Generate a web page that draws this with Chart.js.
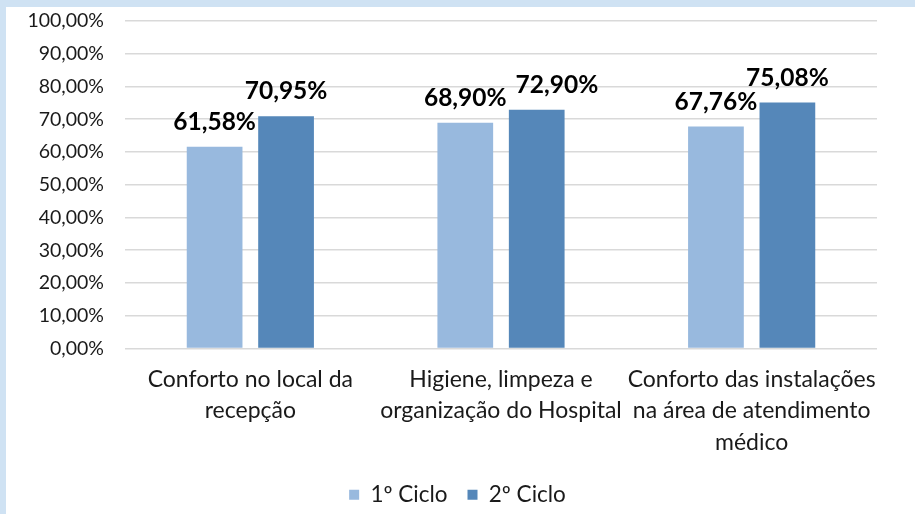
<!DOCTYPE html>
<html>
<head>
<meta charset="utf-8">
<script src="https://cdn.jsdelivr.net/npm/chart.js@4"></script>
<style>
  html, body { margin: 0; padding: 0; }
  body { width: 915px; height: 514px; background: #cfe2f3; position: relative; overflow: hidden; }
  #sheet { position: absolute; left: 6px; top: 7px; right: 0; bottom: 0; background: #ffffff; }
  /* canvas a bit taller than the page so the legend sits low like the original */
  #wrap { position: absolute; left: 0; top: 0; width: 915px; height: 516px; }
</style>
</head>
<body>
<div id="sheet"></div>
<div id="wrap"><canvas id="chart"></canvas></div>
<script>
// categories and values
const categories = [
  ['Conforto no local da', 'recepção'],
  ['Higiene, limpeza e', 'organização do Hospital'],
  ['Conforto das instalações', 'na área de atendimento', 'médico']
];
const seriesNames = ['1º Ciclo', '2º Ciclo'];
const ciclo1 = [61.58, 68.90, 67.76];
const ciclo2 = [70.95, 72.90, 75.08];
const barColors = ['#98b9de', '#5587b9'];

const FONT = 'Lato, "Liberation Sans", sans-serif';
const TEXT = '#1a1a1a';

// percent with comma, like the original spreadsheet
function pct(v) {
  return v.toFixed(2).replace('.', ',') + '%';
}

// draws the bold value over each bar, pushing a label right when it
// would collide with its neighbour (like Excel did in the middle group)
const valueLabels = {
  id: 'valueLabels',
  afterDatasetsDraw(chart) {
    const ctx = chart.ctx;
    ctx.save();
    ctx.font = 'bold 24.5px ' + FONT;
    ctx.fillStyle = '#000000';
    ctx.textAlign = 'center';
    ctx.textBaseline = 'alphabetic';
    const capH = 18;
    const prev = [];
    chart.data.datasets.forEach((ds, i) => {
      const meta = chart.getDatasetMeta(i);
      meta.data.forEach((bar, j) => {
        const txt = pct(ds.data[j]);
        const w = ctx.measureText(txt).width;
        let x = bar.x;
        const y = bar.y - 17;
        const p = prev[j];
        if (p && Math.abs(p.y - y) < capH && x - w / 2 < p.right + 9) {
          x = p.right + 9 + w / 2;
        }
        ctx.fillText(txt, x, y);
        prev[j] = { y: y, right: x + w / 2 };
      });
    });
    ctx.restore();
  }
};

new Chart(document.getElementById('chart'), {
  type: 'bar',
  data: {
    labels: categories,
    datasets: [
      { label: seriesNames[0], data: ciclo1, backgroundColor: barColors[0] },
      { label: seriesNames[1], data: ciclo2, backgroundColor: barColors[1] }
    ]
  },
  options: {
    responsive: true,
    maintainAspectRatio: false,
    animation: false,
    categoryPercentage: 0.57,
    barPercentage: 0.78,
    layout: { padding: { top: 21, right: 0, left: 0, bottom: 0 } },
    scales: {
      x: {
        grid: { display: false },
        border: { display: false },
        ticks: {
          color: TEXT,
          font: { family: FONT, size: 23, lineHeight: 1.35 },
          padding: 8,
          maxRotation: 0,
          autoSkip: false
        },
        afterFit(scale) {
          scale.height = 115;
          scale.paddingLeft = 0;
          scale.paddingRight = 38;
        }
      },
      y: {
        min: 0,
        max: 100,
        grid: { color: '#d9d9d9', lineWidth: 1.6, drawTicks: false },
        border: { display: false },
        ticks: {
          stepSize: 10,
          color: TEXT,
          font: { family: FONT, size: 19.5 },
          padding: 21,
          callback: (v) => pct(v)
        },
        afterFit(scale) {
          scale.width = 125;
          scale.paddingTop = 0;
          scale.paddingBottom = 0;
        }
      }
    },
    plugins: {
      legend: {
        position: 'bottom',
        labels: {
          color: TEXT,
          font: { family: FONT, size: 22.5 },
          boxWidth: 10,
          boxHeight: 10,
          padding: 20
        }
      },
      tooltip: { enabled: false }
    }
  },
  plugins: [valueLabels]
});
</script>
</body>
</html>
